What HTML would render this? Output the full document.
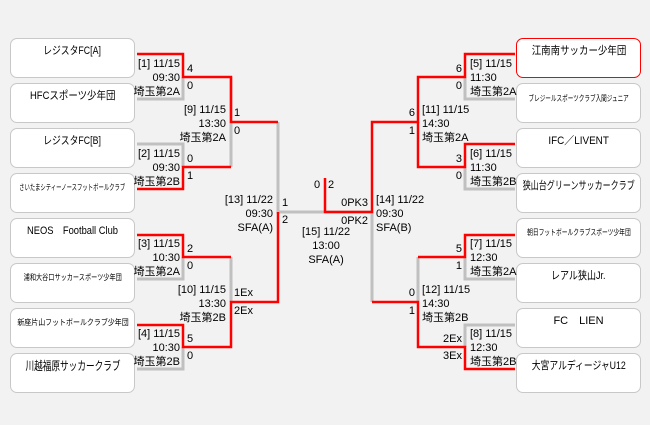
<!DOCTYPE html>
<html><head><meta charset="utf-8"><style>
body{margin:0;width:650px;height:425px;background:#f2f2f2;position:relative;overflow:hidden;font-family:"Liberation Sans","Noto Sans CJK JP",sans-serif;color:#000}
.b{position:absolute;width:125px;background:#fff;border:1px solid #c8c8c8;border-radius:7px;font-size:11px;line-height:14px;padding-top:5px;box-sizing:border-box;height:40px;white-space:nowrap;display:flex;justify-content:center;align-items:flex-start}
.b span{display:block;flex-shrink:0;white-space:nowrap;transform-origin:center}
.s{font-size:8px;padding-top:7px}
.t{position:absolute;font-size:11px;line-height:14px;white-space:nowrap}
.r{text-align:right}
svg{position:absolute;left:0;top:0}
</style></head><body>
<svg width="650" height="425">
<g stroke="#c0c0c0" stroke-width="3" fill="none">
<path d="M137 99H183V77"/><path d="M137 144H183V167"/><path d="M231 257V302"/><path d="M137 279H183V257"/><path d="M137 369H183V347"/>
<path d="M231 77V167"/><path d="M278 122V212H372V302"/>
<path d="M515 99H465V77"/><path d="M515 189H465V167"/><path d="M515 279H465V257"/><path d="M515 325H465V347"/><path d="M418 257V302"/>
</g>
<g stroke="#ff0000" stroke-width="2.5" fill="none">
<path d="M137 54H183V77H231V122H278"/><path d="M137 189H183V167H231"/>
<path d="M137 235H183V257H231"/><path d="M137 325H183V347H231V302H278V212"/>
<path d="M325 178V212H372V122H418V77H465V54H515"/><path d="M515 144H465V167H418V122"/>
<path d="M515 235H465V257H418"/><path d="M515 369H465V347H418V302H372"/>
</g>
</svg>
<div class="b" style="left:10px;top:38px"><span style="transform:scaleX(.8)">レジスタFC[A]</span></div>
<div class="b" style="left:10px;top:83px"><span style="transform:scaleX(.86)">HFCスポーツ少年団</span></div>
<div class="b" style="left:10px;top:128px"><span style="transform:scaleX(.8)">レジスタFC[B]</span></div>
<div class="b s" style="left:10px;top:173px"><span style="transform:scaleX(.67)">さいたまシティーノースフットボールクラブ</span></div>
<div class="b" style="left:10px;top:218px"><span style="transform:scaleX(.85)">NEOS　Football Club</span></div>
<div class="b s" style="left:10px;top:263px"><span style="transform:scaleX(.77)">浦和大谷口サッカースポーツ少年団</span></div>
<div class="b s" style="left:10px;top:308px"><span style="transform:scaleX(.87)">新座片山フットボールクラブ少年団</span></div>
<div class="b" style="left:10px;top:353px;font-size:12px"><span style="transform:scaleX(.72)">川越福原サッカークラブ</span></div>
<div class="b" style="left:516px;top:38px;border-color:#f00"><span style="transform:scaleX(.86)">江南南サッカー少年団</span></div>
<div class="b s" style="left:516px;top:83px;padding-top:8px"><span style="transform:scaleX(.7)">ブレジールスポーツクラブ入間ジュニア</span></div>
<div class="b" style="left:516px;top:128px"><span style="transform:scaleX(.9)">IFC／LIVENT</span></div>
<div class="b" style="left:516px;top:173px"><span style="transform:scaleX(.73)">狭山台グリーンサッカークラブ</span></div>
<div class="b s" style="left:516px;top:218px"><span style="transform:scaleX(.72)">朝日フットボールクラブスポーツ少年団</span></div>
<div class="b" style="left:516px;top:263px"><span style="transform:scaleX(.82)">レアル狭山Jr.</span></div>
<div class="b" style="left:516px;top:308px"><span>FC　LIEN</span></div>
<div class="b" style="left:516px;top:353px"><span style="transform:scaleX(.8)">大宮アルディージャU12</span></div>

<div class="t r" style="right:470px;top:57px">[1] 11/15<br>09:30<br>埼玉第2A</div>
<div class="t" style="left:187px;top:62px">4</div><div class="t" style="left:187px;top:79px">0</div>
<div class="t r" style="right:470px;top:147px">[2] 11/15<br>09:30<br>埼玉第2B</div>
<div class="t" style="left:187px;top:152px">0</div><div class="t" style="left:187px;top:169px">1</div>
<div class="t r" style="right:470px;top:237px">[3] 11/15<br>10:30<br>埼玉第2A</div>
<div class="t" style="left:187px;top:242px">2</div><div class="t" style="left:187px;top:259px">0</div>
<div class="t r" style="right:470px;top:327px">[4] 11/15<br>10:30<br>埼玉第2B</div>
<div class="t" style="left:187px;top:332px">5</div><div class="t" style="left:187px;top:349px">0</div>
<div class="t r" style="right:424px;top:103px">[9] 11/15<br>13:30<br>埼玉第2A</div>
<div class="t" style="left:234px;top:106px">1</div><div class="t" style="left:234px;top:124px">0</div>
<div class="t r" style="right:424px;top:283px">[10] 11/15<br>13:30<br>埼玉第2B</div>
<div class="t" style="left:234px;top:286px">1Ex</div><div class="t" style="left:234px;top:304px">2Ex</div>
<div class="t r" style="right:377px;top:193px">[13] 11/22<br>09:30<br>SFA(A)</div>
<div class="t" style="left:282px;top:196px">1</div><div class="t" style="left:282px;top:213px">2</div>
<div class="t" style="left:314px;top:178px">0</div><div class="t" style="left:328px;top:178px">2</div>
<div class="t r" style="right:282px;top:196px">0PK3</div><div class="t r" style="right:282px;top:214px">0PK2</div>
<div class="t" style="left:376px;top:193px">[14] 11/22<br>09:30<br>SFA(B)</div>
<div class="t" style="left:302px;top:225px;text-align:center">[15] 11/22<br>13:00<br>SFA(A)</div>

<div class="t" style="left:470px;top:57px">[5] 11/15<br>11:30<br>埼玉第2A</div>
<div class="t r" style="right:188px;top:62px">6</div><div class="t r" style="right:188px;top:79px">0</div>
<div class="t" style="left:470px;top:147px">[6] 11/15<br>11:30<br>埼玉第2B</div>
<div class="t r" style="right:188px;top:152px">3</div><div class="t r" style="right:188px;top:169px">0</div>
<div class="t" style="left:470px;top:237px">[7] 11/15<br>12:30<br>埼玉第2A</div>
<div class="t r" style="right:188px;top:242px">5</div><div class="t r" style="right:188px;top:259px">1</div>
<div class="t" style="left:470px;top:327px">[8] 11/15<br>12:30<br>埼玉第2B</div>
<div class="t r" style="right:188px;top:332px">2Ex</div><div class="t r" style="right:188px;top:349px">3Ex</div>
<div class="t" style="left:422px;top:103px">[11] 11/15<br>14:30<br>埼玉第2A</div>
<div class="t r" style="right:235px;top:106px">6</div><div class="t r" style="right:235px;top:124px">1</div>
<div class="t" style="left:422px;top:283px">[12] 11/15<br>14:30<br>埼玉第2B</div>
<div class="t r" style="right:235px;top:286px">0</div><div class="t r" style="right:235px;top:304px">1</div>
</body></html>
